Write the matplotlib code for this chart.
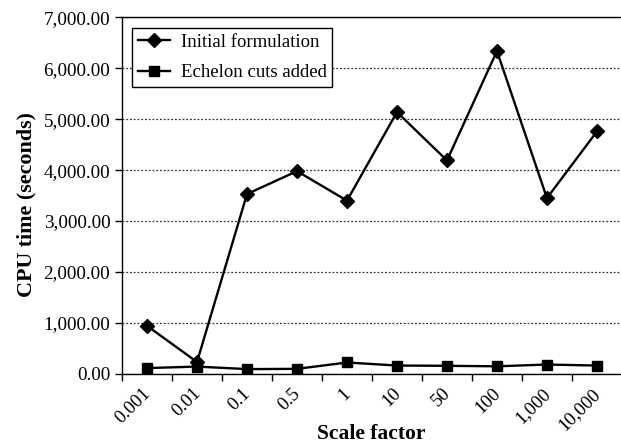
import numpy as np
import matplotlib.pyplot as plt
from matplotlib.transforms import ScaledTranslation

plt.rcParams['font.family'] = ['Liberation Serif', 'DejaVu Serif']

# scale factors (categories) and CPU times
scale_labels = ["0.001", "0.01", "0.1", "0.5", "1", "10", "50", "100", "1,000", "10,000"]
initial = [940, 230, 3530, 3980, 3400, 5140, 4190, 6340, 3450, 4760]
echelon = [110, 140, 90, 95, 220, 160, 155, 145, 180, 160]

fig = plt.figure(figsize=(6.21, 4.47), dpi=100)
ax = fig.add_axes([0.1965, 0.164, 0.805, 0.797])

x = np.arange(len(scale_labels)) + 0.5
ax.plot(x, initial, color="black", lw=1.7, marker="D", markersize=7,
        label="Initial formulation")
ax.plot(x, echelon, color="black", lw=1.7, marker="s", markersize=6.5,
        label="Echelon cuts added")

ax.set_xlim(0, len(scale_labels))
ax.set_ylim(0, 7000)
ax.set_yticks(np.arange(0, 7001, 1000))
ax.set_yticklabels([f"{v:,.2f}" for v in range(0, 7001, 1000)], fontsize=13.8)

# ticks on category boundaries, labels at category centres
ax.set_xticks(np.arange(0, len(scale_labels) + 1))
ax.set_xticklabels([])
ax.set_xticks(x, minor=True)
ax.set_xticklabels(scale_labels, minor=True, rotation=45, ha="right",
                   va="top", rotation_mode="anchor", fontsize=13.5)
ax.tick_params(axis="x", which="minor", length=0, pad=6)
ax.tick_params(axis="both", which="major", direction="out", length=5,
               width=1, color="black")
shift = ScaledTranslation(-0.05, -0.03, fig.dpi_scale_trans)
for lab in ax.get_xticklabels(minor=True):
    lab.set_transform(lab.get_transform() + shift)

ax.yaxis.grid(True, linestyle=(0, (1.5, 1.5)), color="#333333", lw=0.9)
ax.set_axisbelow(True)

for s in ["left", "bottom", "top"]:
    ax.spines[s].set_linewidth(1.0)
ax.spines["right"].set_visible(False)

ax.set_xlabel("Scale factor", fontsize=15.5, fontweight="bold")
ax.xaxis.set_label_coords(0.499, -0.142)
ax.set_ylabel("CPU time (seconds)", fontsize=15.8, fontweight="bold")
ax.yaxis.set_label_coords(-0.172, 0.474)

leg = ax.legend(loc="upper left", bbox_to_anchor=(0.02, 0.97), fontsize=13.5,
                fancybox=False, edgecolor="black", framealpha=1,
                borderaxespad=0, handlelength=1.7, handletextpad=0.6,
                borderpad=0.3, labelspacing=0.7)
leg.get_frame().set_linewidth(1.0)

fig.savefig("out.png", dpi=100)
